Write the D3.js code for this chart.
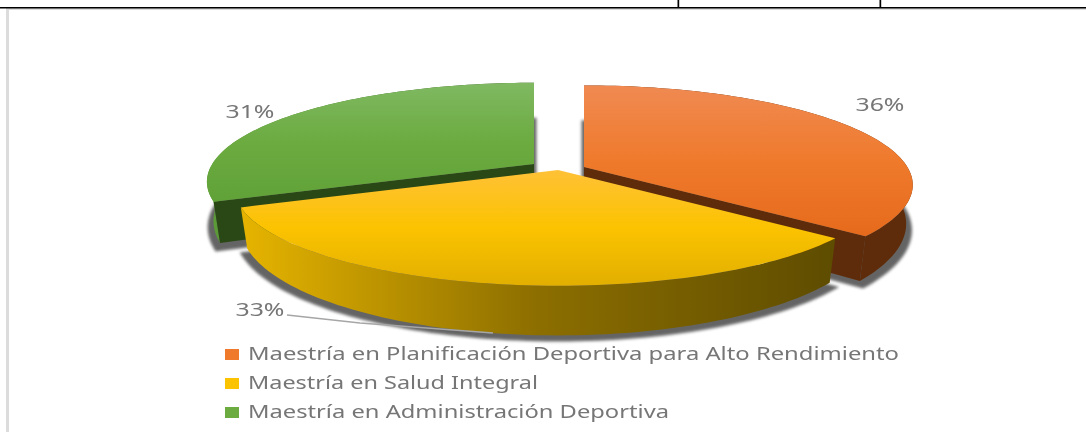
<!DOCTYPE html>
<html>
<head>
<meta charset="utf-8">
<script src="https://cdn.jsdelivr.net/npm/d3@7"></script>
<style>
    html, body { margin: 0; padding: 0; background: #fff; }
    svg { display: block; }
    text { font-family: "Noto Sans", sans-serif; fill: #767676; }
</style>
</head>
<body>
<div id="chart"></div>
<script>
// chart data
const categories = [
    "Maestría en Planificación Deportiva para Alto Rendimiento",
    "Maestría en Salud Integral",
    "Maestría en Administración Deportiva"
];
const values = [36, 33, 31];

// colours per slice, same order as categories
const topStops = [
    ["#f08a52", "#ef7a2c", "#e66a1c"],
    ["#ffc136", "#fbc300", "#e2af00"],
    ["#80b962", "#6bab40", "#61a238"]
];
const wallStops = [
    ["#5e2c0a", "#5e2c0a", "#5e2c0a"],
    ["#e6b400", "#8c6e00", "#5e4c00"],
    ["#5c9c38", "#3f7224", "#2a4a16"]
];
const cutColors = ["#5e2c0a", "#5e4c00", "#2a4816"];

// where the tip of each exploded slice sits, and its size
const tipX = [584, 558, 534];
const tipY = [167, 170, 164];
const sliceScale = [0.995, 0.98, 0.99];
const labelX = [880, 260, 250];
const labelY = [111, 316, 118];
const legendW = [651, 290, 421];

const width = 1086, height = 432;

const svg = d3.select("#chart").append("svg")
    .attr("width", width)
    .attr("height", height);

const defs = svg.append("defs");

defs.append("filter")
    .attr("id", "soft")
    .attr("x", "-10%").attr("y", "-10%")
    .attr("width", "120%").attr("height", "120%")
    .append("feGaussianBlur")
    .attr("stdDeviation", 1.6);

defs.append("filter")
    .attr("id", "textSoft")
    .append("feGaussianBlur")
    .attr("stdDeviation", 0.35);

// page frame behind the chart
svg.append("rect").attr("x", 6).attr("y", 8).attr("width", 3).attr("height", height - 8).attr("fill", "#dcdcdc");
svg.append("rect").attr("x", 6).attr("y", 8).attr("width", width - 6).attr("height", 2).attr("fill", "#dcdcdc");
svg.append("rect").attr("x", 0).attr("y", 7).attr("width", width).attr("height", 1.5).attr("fill", "#000");
[677.5, 879.5].forEach(x => {
    svg.append("rect").attr("x", x).attr("y", 0).attr("width", 1.7).attr("height", 8).attr("fill", "#000");
});

// pie angles, clockwise from 12 o'clock
const arcs = d3.pie().sort(null).value(d => d)(values);

// perspective for the tilted disc
const A = 325, B = 96.8, P = 0.18;
const depth = 37, lowerX = 0.98, lowerY = 1.11;

function disc(angle, i) {
    let u = Math.sin(angle), v = Math.cos(angle);
    let w = 1 + P * v;
    return [A * u / w * sliceScale[i], -B * v / w * sliceScale[i]];
}

const upper = (i, a) => {
    let p = disc(a, i);
    return [tipX[i] + p[0], tipY[i] + p[1]];
};
const lower = (i, a) => {
    let p = disc(a, i);
    return [tipX[i] + p[0] * lowerX, tipY[i] + p[1] * lowerY + depth];
};
const shade = (i, a) => {
    let p = disc(a, i);
    return [tipX[i] + p[0] * 0.99, tipY[i] + p[1] * 1.08 + depth + 7];
};

const line = d3.line();

function rim(fn, i, d) {
    let n = 80;
    return d3.range(n + 1).map(k => fn(i, d.startAngle + (d.endAngle - d.startAngle) * k / n));
}

function addGradient(id, stops, x1, y1, x2, y2) {
    let g = defs.append("linearGradient")
        .attr("id", id)
        .attr("gradientUnits", "userSpaceOnUse")
        .attr("x1", x1).attr("y1", y1)
        .attr("x2", x2).attr("y2", y2);
    g.selectAll("stop")
        .data(stops)
        .enter().append("stop")
        .attr("offset", (d, k) => k / (stops.length - 1))
        .attr("stop-color", d => d);
}

// back slices first, the yellow one sits in front
const drawOrder = [2, 0, 1];

drawOrder.forEach(i => {
    let d = arcs[i];
    let top = rim(upper, i, d);
    let low = rim(lower, i, d);
    let xs = d3.extent(top, p => p[0]);
    let ys = d3.extent(top.concat([[tipX[i], tipY[i]]]), p => p[1]);

    addGradient("top" + i, topStops[i], 0, ys[0], 0, ys[1]);
    addGradient("wall" + i, wallStops[i], xs[0], 0, xs[1], 0);

    let g = svg.append("g").attr("class", "slice");

    // blurred shadow under the slice
    g.append("path")
        .attr("d", line([[tipX[i], tipY[i] + depth + 7]].concat(rim(shade, i, d))) + "Z")
        .attr("fill", "#4a4a4a")
        .attr("stroke", "#4a4a4a")
        .attr("stroke-width", 5)
        .attr("opacity", 0.85)
        .attr("filter", "url(#soft)");

    // outer wall
    g.append("path")
        .attr("d", line(top.concat(low.slice().reverse())) + "Z")
        .attr("fill", "url(#wall" + i + ")");

    // the two cut faces, the front slice hides its own
    let tipTop = [tipX[i], tipY[i]];
    let tipLow = [tipX[i], tipY[i] + depth];
    if (i !== 1) {
        [0, top.length - 1].forEach(k => {
            g.append("path")
                .attr("d", line([tipTop, top[k], low[k], tipLow]) + "Z")
                .attr("fill", cutColors[i]);
        });
    }

    // top face
    g.append("path")
        .attr("d", line([tipTop].concat(top)) + "Z")
        .attr("fill", "url(#top" + i + ")");
});

// leader line for the 33% label
const leader = [[287, 315], [360, 323], [493, 333]];
svg.append("path")
    .attr("d", line(leader))
    .attr("fill", "none")
    .attr("stroke", "#a6a6a6")
    .attr("stroke-width", 1.4);

// data labels
svg.selectAll(".pct")
    .data(arcs)
    .enter().append("text")
    .attr("class", "pct")
    .attr("x", (d, i) => labelX[i])
    .attr("y", (d, i) => labelY[i])
    .attr("text-anchor", "middle")
    .attr("font-size", 18)
    .attr("textLength", 49)
    .attr("lengthAdjust", "spacingAndGlyphs")
    .attr("filter", "url(#textSoft)")
    .text(d => d.value + "%");

// legend
const legendY = d3.scalePoint().domain(categories).range([360, 418]);

const legend = svg.selectAll(".legend")
    .data(categories)
    .enter().append("g")
    .attr("class", "legend");

legend.append("rect")
    .attr("x", 225)
    .attr("y", d => legendY(d) - 11)
    .attr("width", 14)
    .attr("height", 11)
    .attr("fill", (d, i) => topStops[i][1]);

legend.append("text")
    .attr("x", 248)
    .attr("y", d => legendY(d))
    .attr("font-size", 18)
    .attr("textLength", (d, i) => legendW[i])
    .attr("lengthAdjust", "spacingAndGlyphs")
    .attr("filter", "url(#textSoft)")
    .text(d => d);
</script>
</body>
</html>
